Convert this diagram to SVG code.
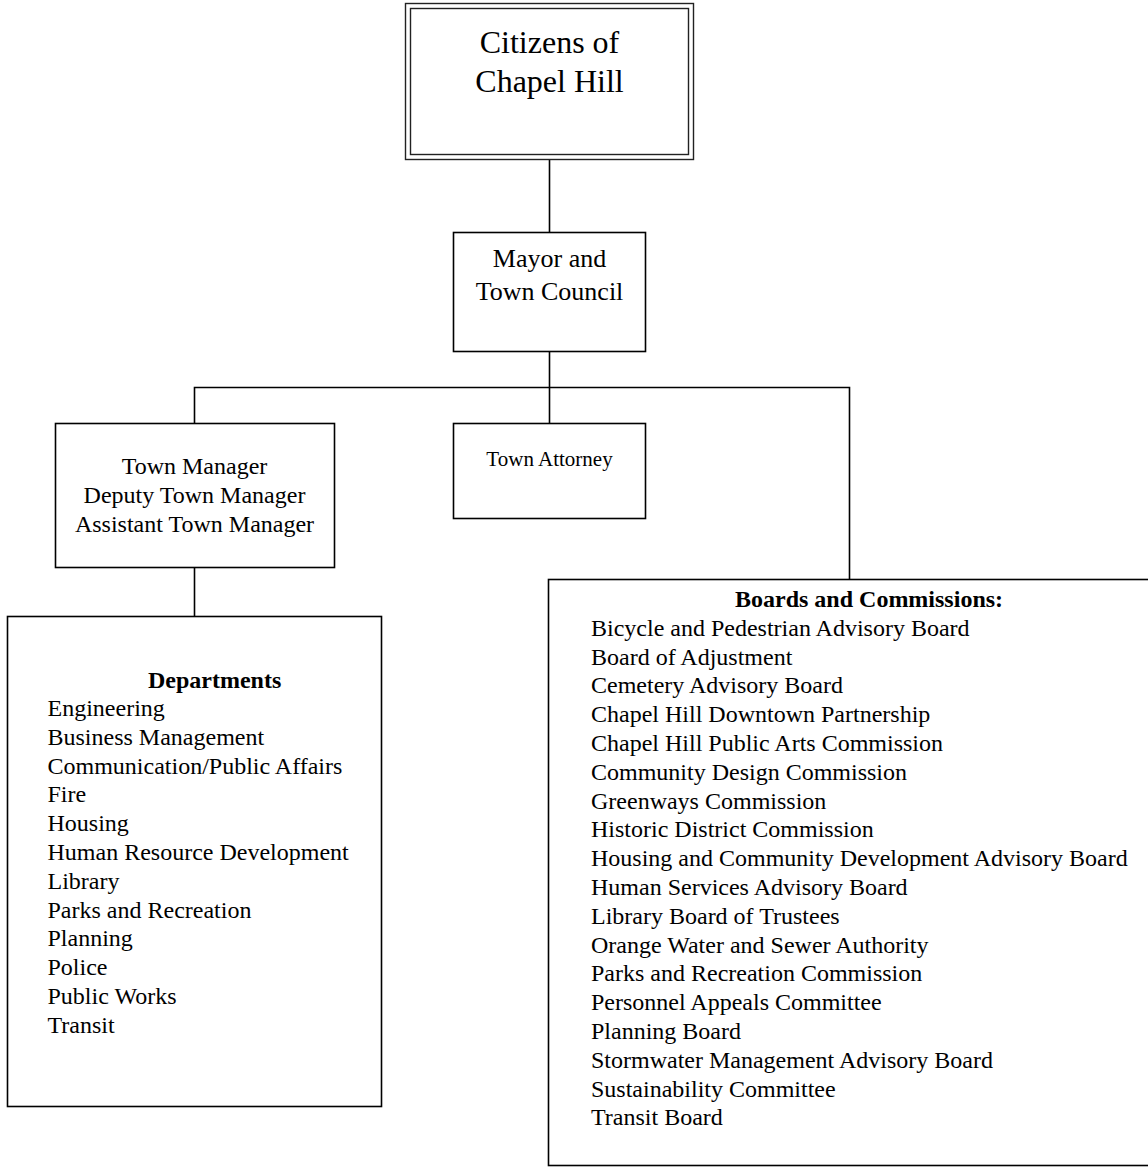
<svg xmlns="http://www.w3.org/2000/svg" width="1148" height="1168" viewBox="0 0 1148 1168">
<style>
.box{fill:#fff;stroke:#000;stroke-width:1.6}
.dbl{fill:none;stroke:#222;stroke-width:1.4}
.ln{stroke:#000;stroke-width:1.6;fill:none}
text{font-family:"Liberation Serif","Times New Roman",serif;fill:#000}
.c{text-anchor:middle}
.b{font-weight:bold}
</style>
<rect width="1148" height="1168" fill="#fff"/>
<g id="connectors">
<line class="ln" x1="549.5" y1="160" x2="549.5" y2="232"/>
<line class="ln" x1="549.5" y1="352" x2="549.5" y2="423"/>
<polyline class="ln" points="194.5,423 194.5,387.5 849.5,387.5 849.5,579"/>
<line class="ln" x1="194.5" y1="568" x2="194.5" y2="616"/>
</g>
<g id="citizens">
<rect class="dbl" x="405.5" y="3.5" width="288" height="156" fill="#fff"/>
<rect class="dbl" x="410.5" y="8.5" width="278" height="146"/>
<text class="c" x="549.5" y="53" font-size="32">Citizens of</text>
<text class="c" x="549.5" y="92" font-size="32">Chapel Hill</text>
</g>
<g id="mayor">
<rect class="box" x="453.5" y="232.5" width="192" height="119"/>
<text class="c" x="549.5" y="267" font-size="26">Mayor and</text>
<text class="c" x="549.5" y="300" font-size="26">Town Council</text>
</g>
<g id="manager">
<rect class="box" x="55.5" y="423.5" width="279" height="144"/>
<text class="c" x="194.5" y="474" font-size="24">Town Manager</text>
<text class="c" x="194.5" y="503" font-size="24">Deputy Town Manager</text>
<text class="c" x="194.5" y="532" font-size="24">Assistant Town Manager</text>
</g>
<g id="attorney">
<rect class="box" x="453.5" y="423.5" width="192" height="95"/>
<text class="c" x="549.5" y="466" font-size="21">Town Attorney</text>
</g>
<g id="departments" font-size="24">
<rect class="box" x="7.5" y="616.5" width="374" height="490"/>
<text class="b" x="148" y="688" font-size="24">Departments</text>
<text x="47.5" y="716">Engineering</text>
<text x="47.5" y="744.8">Business Management</text>
<text x="47.5" y="773.6">Communication/Public Affairs</text>
<text x="47.5" y="802.4">Fire</text>
<text x="47.5" y="831.2">Housing</text>
<text x="47.5" y="860">Human Resource Development</text>
<text x="47.5" y="888.8">Library</text>
<text x="47.5" y="917.6">Parks and Recreation</text>
<text x="47.5" y="946.4">Planning</text>
<text x="47.5" y="975.2">Police</text>
<text x="47.5" y="1004">Public Works</text>
<text x="47.5" y="1032.8">Transit</text>
</g>
<g id="boards" font-size="24">
<rect class="box" x="548.5" y="579.5" width="620" height="586"/>
<text class="b" x="735" y="607" font-size="24">Boards and Commissions:</text>
<text x="591" y="635.8">Bicycle and Pedestrian Advisory Board</text>
<text x="591" y="664.6">Board of Adjustment</text>
<text x="591" y="693.4">Cemetery Advisory Board</text>
<text x="591" y="722.2">Chapel Hill Downtown Partnership</text>
<text x="591" y="751">Chapel Hill Public Arts Commission</text>
<text x="591" y="779.8">Community Design Commission</text>
<text x="591" y="808.6">Greenways Commission</text>
<text x="591" y="837.4">Historic District Commission</text>
<text x="591" y="866.2">Housing and Community Development Advisory Board</text>
<text x="591" y="895">Human Services Advisory Board</text>
<text x="591" y="923.8">Library Board of Trustees</text>
<text x="591" y="952.6">Orange Water and Sewer Authority</text>
<text x="591" y="981.4">Parks and Recreation Commission</text>
<text x="591" y="1010.2">Personnel Appeals Committee</text>
<text x="591" y="1039">Planning Board</text>
<text x="591" y="1067.8">Stormwater Management Advisory Board</text>
<text x="591" y="1096.6">Sustainability Committee</text>
<text x="591" y="1125.4">Transit Board</text>
</g>
</svg>
